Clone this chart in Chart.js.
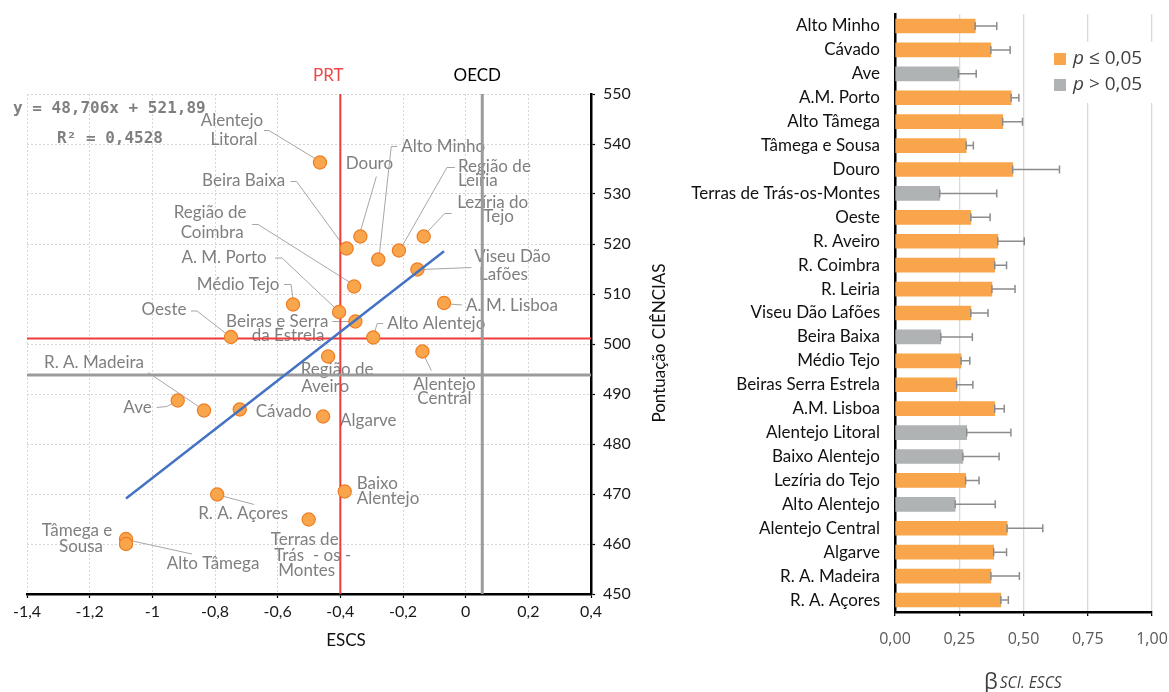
<!DOCTYPE html>
<html><head><meta charset="utf-8">
<script src="https://cdn.jsdelivr.net/npm/chart.js@4.4.0/dist/chart.umd.min.js"></script>
<style>
html,body{margin:0;padding:0;background:#fff;width:1169px;height:692px;overflow:hidden}
#c1{position:absolute;left:0;top:0}
#c2{position:absolute;left:685px;top:0}
</style></head><body>
<canvas id="c1" width="685" height="692"></canvas>
<canvas id="c2" width="484" height="692"></canvas>
<script>
// ---------- Left chart data ----------
const regions = ['Alentejo Litoral','Douro','Beira Baixa','Região de Leiria','Lezíria do Tejo','Alto Minho','Viseu Dão Lafões','Região de Coimbra','A. M. Lisboa','A. M. Porto','Médio Tejo','Beiras e Serra da Estrela','Alto Alentejo','Oeste','Alentejo Central','Região de Aveiro','Ave','R. A. Madeira','Cávado','Algarve','Baixo Alentejo','R. A. Açores','Terras de Trás-os-Montes','Tâmega e Sousa','Alto Tâmega'];
const escs = [-0.465,-0.336,-0.380,-0.213,-0.134,-0.279,-0.154,-0.356,-0.069,-0.404,-0.551,-0.352,-0.295,-0.749,-0.138,-0.439,-0.919,-0.835,-0.721,-0.455,-0.386,-0.793,-0.501,-1.084,-1.084];
const science = [536.3,521.5,519.1,518.7,521.5,516.9,514.9,511.5,508.2,506.4,507.9,504.5,501.3,501.4,498.5,497.5,488.7,486.7,486.9,485.5,470.5,469.9,464.9,461.0,460.0];
const prtEscs = -0.40, prtScore = 501.1;
const oecdEscs = 0.053, oecdScore = 493.8;
const trendSlope = 48.706, trendIntercept = 521.89, trendR2 = 0.4528;
const xMin = -1.4, xMax = 0.4, xStep = 0.2;
const yMin = 450, yMax = 550, yStep = 10;

// ---------- Right chart data ----------
const barCategories = ['Alto Minho','Cávado','Ave','A.M. Porto','Alto Tâmega','Tâmega e Sousa','Douro','Terras de Trás-os-Montes','Oeste','R. Aveiro','R. Coimbra','R. Leiria','Viseu Dão Lafões','Beira Baixa','Médio Tejo','Beiras Serra Estrela','A.M. Lisboa','Alentejo Litoral','Baixo Alentejo','Lezíria do Tejo','Alto Alentejo','Alentejo Central','Algarve','R. A. Madeira','R. A. Açores'];
const betaValues = [0.312,0.373,0.247,0.452,0.419,0.277,0.458,0.174,0.295,0.400,0.388,0.377,0.295,0.178,0.257,0.240,0.388,0.279,0.264,0.275,0.234,0.436,0.384,0.373,0.412];
const betaErrors = [0.084,0.075,0.069,0.030,0.077,0.028,0.182,0.222,0.075,0.103,0.046,0.090,0.067,0.123,0.034,0.063,0.037,0.172,0.141,0.052,0.156,0.139,0.050,0.111,0.029];
const betaSignificant = [1,1,0,1,1,1,1,0,1,1,1,1,1,0,1,1,1,0,0,1,0,1,1,1,1];
const legendLabels = ['≤ 0,05','> 0,05'];

// ---------- styling / label layout (pixel offsets from each point) ----------
const ORANGE = '#f8a54b', GREY = '#b0b3b3';
const labelLayout = {
 'Alentejo Litoral': {lines:[['Alentejo',-88,-42],['Litoral',-86,-23]], leader:[[-56,-32],[-51,-32],[-5,-4]]},
 'Douro': {lines:[['Douro',9,-73]], leader:[[16,-60],[0,-5]]},
 'Beira Baixa': {lines:[['Beira Baixa',-103,-68]], leader:[[-56,-67],[-50,-67],[-4,-4]]},
 'Região de Leiria': {lines:[['Região de',59,-84,'left'],['Leiria',59,-70,'left']], leader:[[56,-83],[48,-83],[3,-4]]},
 'Lezíria do Tejo': {lines:[['Lezíria do',69,-34],['Tejo',75,-20]], leader:[[28,-23],[21,-23],[3,-4]]},
 'Alto Minho': {lines:[['Alto Minho',23,-113,'left']], leader:[[19,-113],[13,-113],[1,-4]]},
 'Viseu Dão Lafões': {lines:[['Viseu Dão',95,-13],['Lafões',86,5]], leader:[[54,-2],[4,0]]},
 'Região de Coimbra': {lines:[['Região de',-144,-74],['Coimbra',-142,-54]], leader:[[-102,-62],[-96,-62],[-4,-4]]},
 'A. M. Lisboa': {lines:[['A. M. Lisboa',22,3,'left']], leader:[[18,2],[5,1]]},
 'A. M. Porto': {lines:[['A. M. Porto',-115,-54]], leader:[[-64,-54],[-57,-54],[-3,-3]]},
 'Médio Tejo': {lines:[['Médio Tejo',-55,-20]], leader:[[-9,-20],[-2,-20],[0,-6]]},
 'Beiras e Serra da Estrela': {lines:[['Beiras e Serra',-27,0,'right'],['da Estrela',-31,14,'right']], leader:[[-23,0],[-5,0]]},
 'Alto Alentejo': {lines:[['Alto Alentejo',14,-14,'left']], leader:[[10,-14],[4,-14],[1,-4]]},
 'Oeste': {lines:[['Oeste',-67,-27]], leader:[[-40,-26],[-34,-26],[-3,-2]]},
 'Alentejo Central': {lines:[['Alentejo',22,33],['Central',22,47]], leader:[[9,19],[1,3]]},
 'Região de Aveiro': {lines:[['Região de',9,13],['Aveiro',-3,30]]},
 'Ave': {lines:[['Ave',-26,7,'right']], leader:[[-21,7],[-11,6],[-3,2]]},
 'R. A. Madeira': {lines:[['R. A. Madeira',-110,-48]], leader:[[-56,-38],[-1,-1]]},
 'Cávado': {lines:[['Cávado',16,2,'left']]},
 'Algarve': {lines:[['Algarve',17,4,'left']]},
 'Baixo Alentejo': {lines:[['Baixo',12,-8,'left'],['Alentejo',12,7,'left']]},
 'R. A. Açores': {lines:[['R. A. Açores',26,19]], leader:[[37,10],[3,1]]},
 'Terras de Trás-os-Montes': {lines:[['Terras de',-4,20],['Trás  - os -',4,36],['Montes',-2,51]]},
 'Tâmega e Sousa': {lines:[['Tâmega e',-49,-8],['Sousa',-45,8]]},
 'Alto Tâmega': {lines:[['Alto Tâmega',87,20]], leader:[[66,10],[2,-4]]}
};

const comma = (v, d) => v.toFixed(d).replace('.', ',');
const fmtX = v => { const r = Math.round(v * 10) / 10; return String(r).replace('.', ','); };

const scatterDecor = {
  id: 'scatterDecor',
  beforeDatasetsDraw(chart) {
    const {ctx, scales: {x, y}} = chart;
    ctx.save();
    regions.forEach((name, i) => {
      const L = labelLayout[name]; if (!L) return;
      const px = x.getPixelForValue(escs[i]), py = y.getPixelForValue(science[i]);
      if (L.leader) {
        ctx.beginPath(); ctx.strokeStyle = '#a6a6a6'; ctx.lineWidth = 1;
        L.leader.forEach(([dx, dy], k) => k ? ctx.lineTo(px + dx, py + dy) : ctx.moveTo(px + dx, py + dy));
        ctx.stroke();
      }
      ctx.font = '17px Lato'; ctx.fillStyle = '#7f7f7f'; ctx.textBaseline = 'middle';
      L.lines.forEach(([t, dx, dy, al]) => { ctx.textAlign = al || 'center'; ctx.fillText(t, px + dx, py + dy); });
    });
    ctx.restore();
  },
  afterDraw(chart) {
    const {ctx, scales: {x}} = chart;
    ctx.save();
    ctx.textBaseline = 'middle';
    ctx.font = 'bold 16px "DejaVu Sans Mono"'; ctx.fillStyle = '#7f7f7f'; ctx.textAlign = 'left';
    ctx.fillText('y = ' + comma(trendSlope, 3) + 'x + ' + comma(trendIntercept, 2), 13, 109);
    ctx.fillText('R² = ' + comma(trendR2, 4), 57, 139);
    ctx.font = '17px Lato'; ctx.textAlign = 'center';
    ctx.fillStyle = '#f04646'; ctx.fillText('PRT', x.getPixelForValue(prtEscs) - 12, 76);
    ctx.fillStyle = '#000'; ctx.fillText('OECD', x.getPixelForValue(oecdEscs) - 5, 76);
    ctx.fillStyle = '#111'; ctx.fillText('ESCS', 346, 641);
    ctx.translate(660, 343); ctx.rotate(-Math.PI / 2); ctx.fillText('Pontuação CIÊNCIAS', 0, 0);
    ctx.restore();
  }
};

const lineDs = (data, color, width, order) => ({type: 'scatter', data, showLine: true, borderColor: color, borderWidth: width, pointRadius: 0, order});
const trendX = [Math.min(...escs), Math.max(...escs)];

new Chart(document.getElementById('c1'), {
  type: 'scatter',
  data: {datasets: [
    lineDs([{x: prtEscs, y: yMin}, {x: prtEscs, y: yMax}], '#ee3b3b', 2, 5),
    lineDs([{x: xMin, y: prtScore}, {x: xMax, y: prtScore}], '#ee3b3b', 2, 5),
    lineDs([{x: oecdEscs, y: yMin}, {x: oecdEscs, y: yMax}], '#9b9b9b', 3, 4),
    lineDs([{x: xMin, y: oecdScore}, {x: xMax, y: oecdScore}], '#9b9b9b', 3, 4),
    {type: 'scatter', data: escs.map((v, i) => ({x: v, y: science[i]})), pointRadius: 6.6, backgroundColor: '#f9a54b', borderColor: '#ef7d22', borderWidth: 1.2, order: 2},
    lineDs(trendX.map(v => ({x: v, y: trendSlope * v + trendIntercept})), '#4472c4', 2.5, 1)
  ]},
  options: {
    responsive: false, animation: false, devicePixelRatio: 1,
    layout: {padding: {left: 27, top: 94, right: 0, bottom: 0}},
    plugins: {legend: {display: false}, tooltip: {enabled: false}},
    scales: {
      x: {type: 'linear', min: xMin, max: xMax,
        ticks: {stepSize: xStep, callback: v => fmtX(v), font: {family: 'Lato', size: 16}, color: '#1a1a1a', padding: 4, maxRotation: 0, autoSkip: false},
        grid: {color: '#d6d6d6', lineWidth: 1, tickColor: '#000', tickLength: 4, tickBorderDash: [], tickWidth: 1.2},
        border: {color: '#000', width: 2.5, dash: [2, 2]},
        afterFit(s) { s.height = 98; }},
      y: {type: 'linear', position: 'right', min: yMin, max: yMax,
        ticks: {stepSize: yStep, font: {family: 'Lato', size: 16}, color: '#1a1a1a', padding: 8},
        grid: {color: '#d6d6d6', lineWidth: 1, tickColor: '#000', tickLength: 4, tickBorderDash: [], tickWidth: 1.2},
        border: {color: '#000', width: 2.5, dash: [2, 2]},
        afterFit(s) { s.width = 94; }}
    }
  },
  plugins: [scatterDecor]
});

// ---------- Right chart ----------
const errorBars = {
  id: 'errorBars',
  afterDatasetsDraw(chart) {
    const {ctx, scales: {x}} = chart;
    const meta = chart.getDatasetMeta(0);
    ctx.save(); ctx.strokeStyle = '#8c8c8c'; ctx.lineWidth = 1.5;
    meta.data.forEach((bar, i) => {
      const x0 = bar.x, x1 = x.getPixelForValue(betaValues[i] + betaErrors[i]), y = bar.y;
      ctx.beginPath();
      ctx.moveTo(x0, y); ctx.lineTo(x1, y);
      ctx.moveTo(x0, y - 4); ctx.lineTo(x0, y + 4);
      ctx.moveTo(x1, y - 4); ctx.lineTo(x1, y + 4);
      ctx.stroke();
    });
    ctx.restore();
  }
};
const barDecor = {
  id: 'barDecor',
  afterDraw(chart) {
    const {ctx} = chart;
    ctx.save();
    ctx.fillStyle = '#fff'; ctx.fillRect(350, 42, 130, 61);
    [ORANGE, GREY].forEach((c, k) => {
      const yc = 59 + k * 26;
      ctx.fillStyle = c; ctx.fillRect(369, yc - 6, 12, 12);
      ctx.textBaseline = 'middle'; ctx.textAlign = 'left'; ctx.fillStyle = '#404040';
      ctx.font = 'italic 19px "Open Sans"'; ctx.fillText('p', 388, yc);
      const w = ctx.measureText('p').width;
      ctx.font = '19px "Open Sans"'; ctx.fillText(' ' + legendLabels[k], 388 + w, yc);
    });
    ctx.fillStyle = '#404040'; ctx.textBaseline = 'alphabetic';
    ctx.font = '22px "Open Sans"'; ctx.fillText('β', 299, 689);
    const bw = ctx.measureText('β').width;
    ctx.font = 'italic 15.5px "Open Sans"'; ctx.fillText('SCI. ESCS', 299 + bw + 2, 688);
    ctx.restore();
  }
};

new Chart(document.getElementById('c2'), {
  type: 'bar',
  data: {labels: barCategories, datasets: [{data: betaValues, backgroundColor: betaSignificant.map(s => s ? ORANGE : GREY), barThickness: 14}]},
  options: {
    indexAxis: 'y', responsive: false, animation: false, devicePixelRatio: 1,
    layout: {padding: {top: 14, right: 17, left: 0, bottom: 0}},
    plugins: {legend: {display: false}, tooltip: {enabled: false}},
    scales: {
      x: {min: 0, max: 1,
        ticks: {stepSize: 0.25, callback: v => comma(v, 2), font: {family: 'Open Sans', size: 16}, color: '#595959', padding: 14},
        grid: {color: '#d9d9d9', lineWidth: 1.3, tickColor: '#000', tickLength: 4},
        border: {color: '#000', width: 2.5},
        afterFit(s) { s.height = 80; s.paddingLeft = 0; s.paddingRight = 0; }},
      y: {ticks: {font: {family: 'Lato', size: 17}, color: '#111', padding: 15, autoSkip: false},
        grid: {display: false, drawTicks: false},
        border: {color: '#000', width: 2.5},
        afterFit(s) { s.width = 210; s.paddingTop = 0; s.paddingBottom = 0; }}
    }
  },
  plugins: [errorBars, barDecor]
});
</script>
</body></html>
